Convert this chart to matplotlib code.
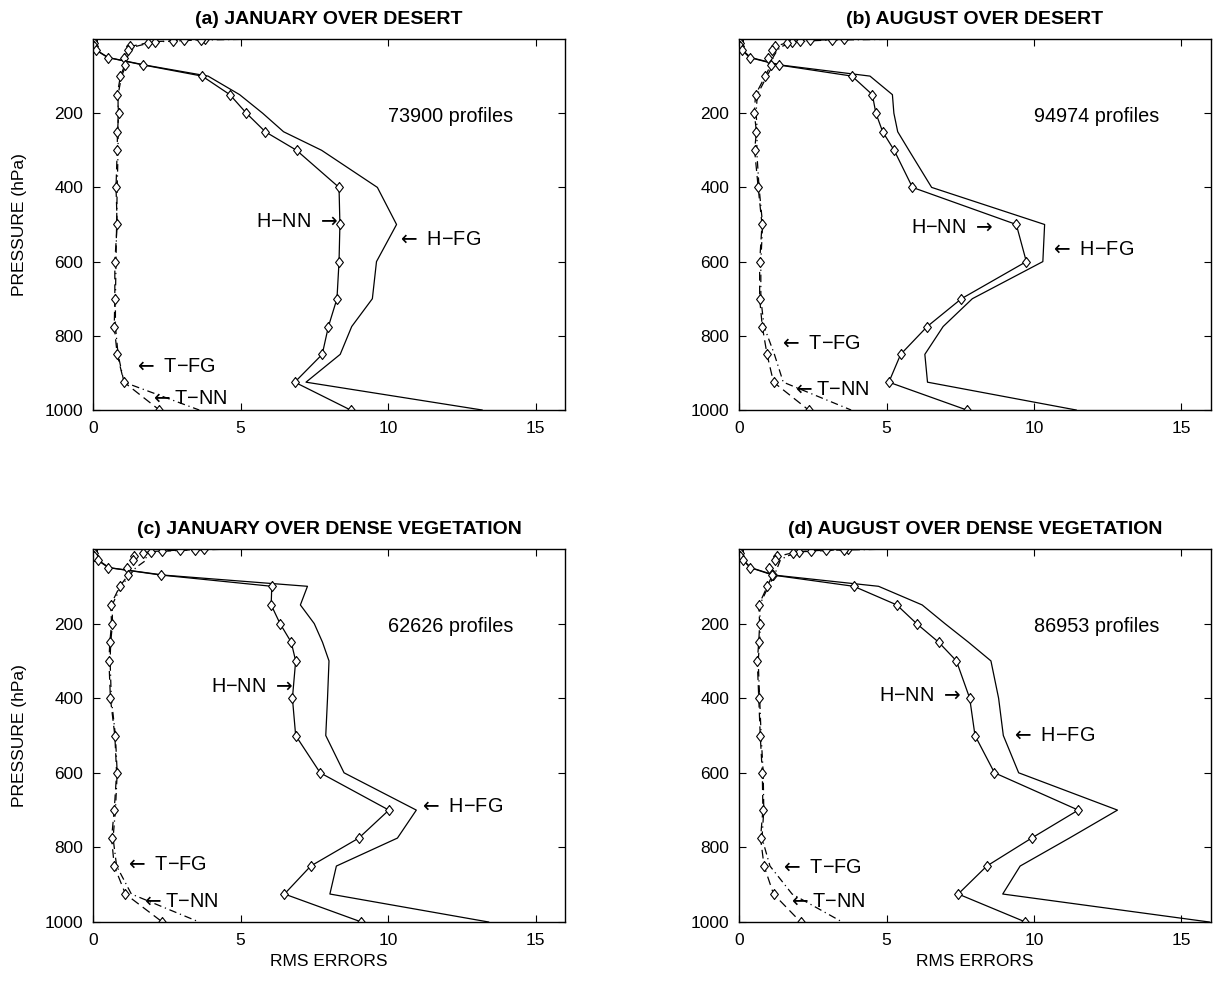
import matplotlib
matplotlib.use("Agg")
from matplotlib import pyplot as plt

plt.rcParams["font.family"] = ["Liberation Sans", "DejaVu Sans"]
plt.rcParams["mathtext.fontset"] = "dejavusans"

# Pressure levels (hPa)
levels = [1, 2, 3, 5, 7, 10, 20, 30, 50, 70, 100, 150, 200, 250, 300,
          400, 500, 600, 700, 775, 850, 925, 1000]

titles = ["(a) JANUARY OVER DESERT", "(b) AUGUST OVER DESERT",
          "(c) JANUARY OVER DENSE VEGETATION", "(d) AUGUST OVER DENSE VEGETATION"]
profiles = ["73900 profiles", "94974 profiles", "62626 profiles", "86953 profiles"]

# (a) January over desert
h_nn_a = [0, 0, 0, 0, 0.01, 0.02, 0.05, 0.1, 0.5, 1.7, 3.7, 4.64, 5.2, 5.84, 6.9,
          8.34, 8.37, 8.34, 8.27, 7.98, 7.77, 6.84, 8.73]
h_fg_a = [0, 0, 0, 0, 0.01, 0.02, 0.05, 0.12, 0.52, 1.75, 3.9, 4.97, 5.75, 6.46, 7.75,
          9.64, 10.29, 9.61, 9.47, 8.77, 8.38, 7.22, 13.19]
t_nn_a = [3.8, 3.65, 3.07, 2.7, 2.1, 1.87, 1.27, 1.19, 1.05, 1.08, 0.93, 0.82, 0.87, 0.83, 0.82,
          0.78, 0.82, 0.74, 0.74, 0.72, 0.82, 1.05, 2.25]
t_fg_a = [5.0, 4.2, 3.4, 2.9, 2.3, 1.95, 1.45, 1.3, 1.15, 1.12, 0.97, 0.85, 0.85, 0.85, 0.85,
          0.82, 0.8, 0.78, 0.76, 0.76, 0.85, 1.05, 3.6]

# (b) August over desert
h_nn_b = [0, 0, 0, 0, 0.01, 0.02, 0.04, 0.1, 0.36, 1.34, 3.83, 4.52, 4.64, 4.87, 5.26,
          5.88, 9.40, 9.74, 7.54, 6.38, 5.48, 5.08, 7.72]
h_fg_b = [0, 0, 0, 0, 0.01, 0.02, 0.05, 0.12, 0.4, 1.4, 4.44, 5.2, 5.25, 5.38, 5.76,
          6.53, 10.36, 10.30, 7.91, 6.92, 6.30, 6.39, 11.43]
t_nn_b = [3.56, 3.16, 2.41, 2.07, 1.79, 1.62, 1.23, 1.12, 0.97, 1.08, 0.89, 0.56, 0.52, 0.59, 0.53,
          0.65, 0.78, 0.70, 0.70, 0.79, 0.95, 1.17, 2.36]
t_fg_b = [5.0, 4.0, 3.0, 2.4, 2.0, 1.8, 1.45, 1.3, 1.15, 1.15, 0.95, 0.62, 0.58, 0.62, 0.6,
          0.68, 0.8, 0.74, 0.74, 0.85, 1.2, 1.5, 3.8]

# (c) January over dense vegetation
h_nn_c = [0, 0, 0, 0, 0.01, 0.02, 0.05, 0.16, 0.52, 2.32, 6.06, 6.04, 6.34, 6.72, 6.87,
          6.76, 6.87, 7.70, 10.03, 9.01, 7.38, 6.49, 9.10]
h_fg_c = [0, 0, 0, 0, 0.01, 0.02, 0.05, 0.18, 0.55, 2.4, 7.27, 7.03, 7.5, 7.78, 8.0,
          7.95, 7.89, 8.51, 10.96, 10.32, 8.25, 8.03, 13.41]
t_nn_c = [3.75, 3.47, 2.94, 2.35, 1.98, 1.70, 1.40, 1.36, 1.14, 1.19, 0.91, 0.60, 0.63, 0.57, 0.54,
          0.59, 0.74, 0.80, 0.72, 0.63, 0.72, 1.10, 2.35]
t_fg_c = [4.3, 3.8, 3.2, 2.6, 2.2, 1.9, 1.8, 1.8, 1.45, 1.25, 0.95, 0.65, 0.66, 0.6, 0.58,
          0.62, 0.76, 0.82, 0.76, 0.68, 0.8, 1.3, 3.6]

# (d) August over dense vegetation
h_nn_d = [0, 0, 0, 0, 0.01, 0.02, 0.05, 0.14, 0.38, 1.15, 3.89, 5.35, 6.02, 6.77, 7.37,
          7.82, 8.00, 8.66, 11.50, 9.92, 8.40, 7.43, 9.71]
h_fg_d = [0, 0, 0, 0, 0.01, 0.02, 0.05, 0.15, 0.4, 1.2, 4.73, 6.21, 6.98, 7.78, 8.54,
          8.80, 8.96, 9.48, 12.83, 11.2, 9.53, 8.94, 15.94]
t_nn_d = [3.69, 3.56, 2.96, 2.43, 2.02, 1.83, 1.30, 1.21, 1.02, 1.13, 0.96, 0.67, 0.70, 0.67, 0.62,
          0.67, 0.72, 0.79, 0.81, 0.73, 0.85, 1.17, 2.09]
t_fg_d = [4.65, 4.0, 3.3, 2.7, 2.2, 1.95, 1.6, 1.4, 1.3, 1.2, 1.0, 0.7, 0.72, 0.7, 0.65,
          0.7, 0.75, 0.82, 0.84, 0.78, 1.05, 1.8, 3.5]

panels = [(h_nn_a, h_fg_a, t_nn_a, t_fg_a),
          (h_nn_b, h_fg_b, t_nn_b, t_fg_b),
          (h_nn_c, h_fg_c, t_nn_c, t_fg_c),
          (h_nn_d, h_fg_d, t_nn_d, t_fg_d)]

# label anchor points (x, pressure) for H-NN, H-FG, T-FG, T-NN
label_pos = [
    [(8.3, 493), (10.3, 541), (1.39, 884), (1.93, 968)],
    [(8.61, 507), (10.55, 568), (1.34, 821), (1.79, 946)],
    [(6.77, 369), (11.05, 691), (1.08, 845), (1.62, 944)],
    [(7.53, 394), (9.22, 499), (1.38, 854), (1.66, 944)],
]

# axes boxes in pixels: left, top, right, bottom
W, H = 1216, 981
boxes = [(93, 39, 565, 410), (739, 39, 1211, 410),
         (93, 549, 565, 922), (739, 549, 1211, 922)]

# diamond a little wider than matplotlib's thin one
diamond = [(0, 1), (0.78, 0), (0, -1), (-0.78, 0), (0, 1)]

fig = plt.figure(figsize=(W / 100, H / 100), dpi=100)
fs = 12.5   # ticks and axis labels
fa = 14.3   # annotations

for i, (h_nn, h_fg, t_nn, t_fg) in enumerate(panels):
    l, t, r, b = boxes[i]
    ax = fig.add_axes([l / W, 1 - b / H, (r - l) / W, (b - t) / H])

    mk = dict(marker=diamond, markersize=7.2, markerfacecolor="white",
              markeredgecolor="black", markeredgewidth=0.8)
    ax.plot(h_fg, levels, color="black", lw=0.9)
    ax.plot(h_nn, levels, color="black", lw=0.9, **mk)
    ax.plot(t_fg, levels, color="black", lw=0.9, dashes=(6, 3, 1, 3))
    ax.plot(t_nn, levels, color="black", lw=0.9, dashes=(7, 4), **mk)

    ax.set_xlim(0, 16)
    ax.set_ylim(1000, 0)
    ax.set_xticks([0, 5, 10, 15])
    ax.set_yticks([200, 400, 600, 800, 1000])
    ax.tick_params(direction="in", top=True, right=True, labelsize=fs,
                   length=5, width=0.8)
    ax.tick_params(axis="x", pad=8)
    ax.tick_params(axis="y", pad=7)
    for sp in ax.spines.values():
        sp.set_linewidth(1.0)

    ax.set_title(titles[i], fontsize=14, fontweight="bold", pad=11)
    ax.text(10, 208, profiles[i], fontsize=fa, va="center", ha="left")

    (x1, p1), (x2, p2), (x3, p3), (x4, p4) = label_pos[i]
    ax.text(x1, p1, "H\u2212NN $\\rightarrow$", fontsize=fa, va="center", ha="right")
    ax.text(x2, p2, "$\\leftarrow$ H\u2212FG", fontsize=fa, va="center", ha="left")
    ax.text(x3, p3, "$\\leftarrow$ T\u2212FG", fontsize=fa, va="center", ha="left")
    ax.text(x4, p4, "$\\leftarrow$T\u2212NN", fontsize=fa, va="center", ha="left")

    if i % 2 == 0:
        ax.set_ylabel("PRESSURE (hPa)", fontsize=fs, labelpad=13)
    if i >= 2:
        ax.set_xlabel("RMS ERRORS", fontsize=fs, labelpad=4)

plt.savefig("out.png", dpi=100)
